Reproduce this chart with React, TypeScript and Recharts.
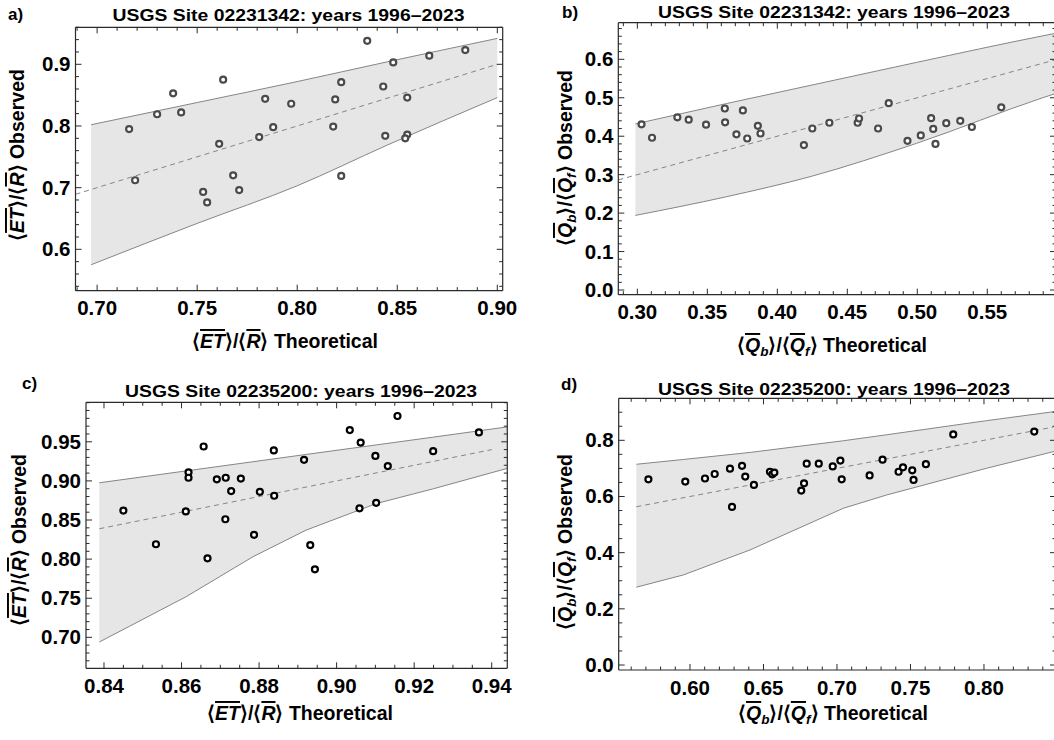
import React from 'react';
import { ComposedChart, XAxis, YAxis, Area, Line, Scatter } from 'recharts';

const FONT = '"Liberation Sans", Arial, Helvetica, sans-serif';

// ---------- Panel a: USGS 02231342, ET/R ----------
const aTheoretical = [0.716, 0.719, 0.730, 0.738, 0.742, 0.753, 0.755, 0.761, 0.763, 0.768, 0.771, 0.781, 0.784, 0.788, 0.797, 0.818, 0.819, 0.822, 0.822, 0.835, 0.843, 0.844, 0.848, 0.855, 0.855, 0.854, 0.866, 0.884];
const aObserved = [0.795, 0.712, 0.819, 0.853, 0.822, 0.693, 0.676, 0.771, 0.875, 0.720, 0.696, 0.782, 0.844, 0.798, 0.836, 0.799, 0.843, 0.871, 0.719, 0.938, 0.864, 0.784, 0.903, 0.846, 0.786, 0.780, 0.914, 0.923];
const aBandX = [0.697, 0.75, 0.80, 0.845, 0.90];
const aBandLow = [0.575, 0.642, 0.703, 0.769, 0.846];
const aBandHigh = [0.802, 0.838, 0.872, 0.904, 0.942];
const aDiag = [0.6892, 0.90];
const aXMajor = [0.70, 0.75, 0.80, 0.85, 0.90];
const aYMajor = [0.6, 0.7, 0.8, 0.9];

// ---------- Panel b: USGS 02231342, Qb/Qf ----------
const bTheoretical = [0.303, 0.3105, 0.3286, 0.3367, 0.3491, 0.3625, 0.3627, 0.3708, 0.3754, 0.3785, 0.3861, 0.388, 0.419, 0.425, 0.4372, 0.4574, 0.4584, 0.472, 0.4796, 0.493, 0.5025, 0.5099, 0.5114, 0.513, 0.5207, 0.5307, 0.539, 0.56];
const bObserved = [0.431, 0.396, 0.449, 0.443, 0.430, 0.472, 0.436, 0.405, 0.467, 0.394, 0.427, 0.407, 0.377, 0.420, 0.435, 0.435, 0.446, 0.420, 0.486, 0.388, 0.402, 0.447, 0.419, 0.380, 0.434, 0.440, 0.424, 0.475];
const bBandX = [0.2986, 0.3638, 0.4234, 0.4995, 0.5896, 0.598];
const bBandLow = [0.194, 0.2427, 0.2947, 0.3815, 0.50, 0.51];
const bBandHigh = [0.432, 0.485, 0.532, 0.592, 0.661, 0.667];
const bDiag = [0.2864, 0.598];
const bXMajor = [0.30, 0.35, 0.40, 0.45, 0.50, 0.55];
const bYMajor = [0.0, 0.1, 0.2, 0.3, 0.4, 0.5, 0.6];

// ---------- Panel c: USGS 02235200, ET/R ----------
const cTheoretical = [0.845, 0.8534, 0.8611, 0.8618, 0.8618, 0.8657, 0.8667, 0.8691, 0.8714, 0.8713, 0.8728, 0.8753, 0.8787, 0.8802, 0.8838, 0.8839, 0.8916, 0.8932, 0.8944, 0.9034, 0.9062, 0.9059, 0.91, 0.9102, 0.9132, 0.9157, 0.9249, 0.9367];
const cObserved = [0.862, 0.819, 0.861, 0.911, 0.904, 0.944, 0.801, 0.902, 0.904, 0.851, 0.887, 0.903, 0.831, 0.886, 0.939, 0.881, 0.927, 0.818, 0.787, 0.965, 0.949, 0.865, 0.932, 0.872, 0.919, 0.983, 0.938, 0.962];
const cBandX = [0.8388, 0.8612, 0.8784, 0.8921, 0.9102, 0.925, 0.944];
const cBandLow = [0.694, 0.752, 0.803, 0.837, 0.871, 0.890, 0.916];
const cBandHigh = [0.8976, 0.9128, 0.9245, 0.9338, 0.946, 0.956, 0.969];
const cDiag = [0.8388, 0.94];
const cXMajor = [0.84, 0.86, 0.88, 0.90, 0.92, 0.94];
const cYMajor = [0.70, 0.75, 0.80, 0.85, 0.90, 0.95];

// ---------- Panel d: USGS 02235200, Qb/Qf ----------
const dTheoretical = [0.5717, 0.5968, 0.6102, 0.6168, 0.6272, 0.6286, 0.6354, 0.6376, 0.6435, 0.6544, 0.656, 0.6574, 0.6757, 0.6776, 0.6794, 0.6876, 0.6971, 0.7023, 0.7032, 0.7222, 0.731, 0.7419, 0.7449, 0.7512, 0.7521, 0.7605, 0.7791, 0.8342];
const dObserved = [0.661, 0.653, 0.664, 0.680, 0.699, 0.563, 0.709, 0.671, 0.641, 0.688, 0.679, 0.685, 0.621, 0.647, 0.717, 0.717, 0.707, 0.728, 0.661, 0.675, 0.731, 0.688, 0.704, 0.693, 0.659, 0.715, 0.821, 0.831];
const dBandX = [0.5635, 0.5954, 0.6408, 0.7043, 0.7338, 0.8018, 0.849];
const dBandLow = [0.277, 0.3205, 0.4095, 0.558, 0.6054, 0.7005, 0.762];
const dBandHigh = [0.7147, 0.7317, 0.7568, 0.7984, 0.8198, 0.870, 0.903];
const dDiag = [0.5635, 0.8471];
const dXMajor = [0.60, 0.65, 0.70, 0.75, 0.80];
const dYMajor = [0.0, 0.2, 0.4, 0.6, 0.8];

type Box = { x: number; y: number; w: number; h: number };
type Rect = { l: number; t: number; r: number; b: number };
type PanelCfg = {
  box: Box; plot: Rect;
  xDomain: [number, number]; yDomain: [number, number];
  xMajor: number[]; yMajor: number[]; xMinor: number; yMinor: number;
  xDec: number; yDec: number;
  theo: number[]; obs: number[];
  bandX: number[]; bandLow: number[]; bandHigh: number[]; diag: number[];
  curve: 'linear' | 'monotone';
  markerColor: string;
};

const panels: PanelCfg[] = [
  {
    box: { x: 0, y: 0, w: 520, h: 370 }, plot: { l: 75.5, t: 27.3, r: 502.7, b: 290.7 },
    xDomain: [0.6892, 0.9027], yDomain: [0.5329, 0.96],
    xMajor: aXMajor, yMajor: aYMajor, xMinor: 0.01, yMinor: 0.02, xDec: 2, yDec: 1,
    theo: aTheoretical, obs: aObserved, bandX: aBandX, bandLow: aBandLow, bandHigh: aBandHigh, diag: aDiag,
    curve: 'monotone', markerColor: '#4a4a4a',
  },
  {
    box: { x: 520, y: 0, w: 550, h: 370 }, plot: { l: 618.3, t: 22.7, r: 1056, b: 294.7 },
    xDomain: [0.2864, 0.5991], yDomain: [-0.0122, 0.6952],
    xMajor: bXMajor, yMajor: bYMajor, xMinor: 0.01, yMinor: 0.02, xDec: 2, yDec: 1,
    theo: bTheoretical, obs: bObserved, bandX: bBandX, bandLow: bBandLow, bandHigh: bBandHigh, diag: bDiag,
    curve: 'monotone', markerColor: '#4a4a4a',
  },
  {
    box: { x: 0, y: 370, w: 520, h: 370 }, plot: { l: 86, t: 402.3, r: 507.3, b: 668.3 },
    xDomain: [0.83536, 0.94402], yDomain: [0.6604, 1.0005],
    xMajor: cXMajor, yMajor: cYMajor, xMinor: 0.005, yMinor: 0.01, xDec: 2, yDec: 2,
    theo: cTheoretical, obs: cObserved, bandX: cBandX, bandLow: cBandLow, bandHigh: cBandHigh, diag: cDiag,
    curve: 'linear', markerColor: '#000000',
  },
  {
    box: { x: 520, y: 370, w: 550, h: 370 }, plot: { l: 618.7, t: 398.3, r: 1056, b: 670 },
    xDomain: [0.5515, 0.849], yDomain: [-0.0178, 0.9496],
    xMajor: dXMajor, yMajor: dYMajor, xMinor: 0.01, yMinor: 0.05, xDec: 2, yDec: 1,
    theo: dTheoretical, obs: dObserved, bandX: dBandX, bandLow: dBandLow, bandHigh: dBandHigh, diag: dDiag,
    curve: 'linear', markerColor: '#000000',
  },
];

function tickList(domain: [number, number], step: number): number[] {
  const out: number[] = [];
  const start = Math.ceil(domain[0] / step - 1e-9);
  const end = Math.floor(domain[1] / step + 1e-9);
  for (let i = start; i <= end; i++) out.push(Math.round(i * step * 1e6) / 1e6);
  return out;
}
const isMajor = (v: number, majors: number[]) => majors.some((m) => Math.abs(m - v) < 1e-7);

const FRAME = '#2a2a2a';
const MAJ = 6;
const MIN = 3.5;
const TICK_FS = 20.5;

function PanelChart({ p }: { p: PanelCfg }) {
  const W = p.box.w, H = p.box.h;
  const L = p.plot.l - p.box.x, T = p.plot.t - p.box.y, R = p.plot.r - p.box.x, B = p.plot.b - p.box.y;
  const YW = 50, XH = 40, TH = 5, RW = 5;
  const margin = { left: L - YW, top: T - TH, right: W - R - RW, bottom: H - B - XH };
  const bandData = p.bandX.map((x, i) => ({ x, band: [p.bandLow[i], p.bandHigh[i]] }));
  const diagData = p.diag.map((x) => ({ x, d: x }));
  const pts = p.theo.map((x, i) => ({ x, y: p.obs[i] }));
  const xTicks = tickList(p.xDomain, p.xMinor);
  const yTicks = tickList(p.yDomain, p.yMinor);

  const bottomTick = (props: any) => {
    const v = props.payload.value as number;
    const x = props.x as number;
    const maj = isMajor(v, p.xMajor);
    return (
      <g>
        <line x1={x} x2={x} y1={B} y2={B - (maj ? MAJ : MIN)} stroke={FRAME} strokeWidth={1} />
        {maj && (
          <text x={x} y={B + 24.5} textAnchor="middle" fontFamily={FONT} fontWeight="bold" fontSize={TICK_FS} fill="#000">
            {v.toFixed(p.xDec)}
          </text>
        )}
      </g>
    );
  };
  const topTick = (props: any) => {
    const v = props.payload.value as number;
    const x = props.x as number;
    const maj = isMajor(v, p.xMajor);
    return <line x1={x} x2={x} y1={T} y2={T + (maj ? MAJ : MIN)} stroke={FRAME} strokeWidth={1} />;
  };
  const leftTick = (props: any) => {
    const v = props.payload.value as number;
    const y = props.y as number;
    const maj = isMajor(v, p.yMajor);
    return (
      <g>
        <line x1={L} x2={L + (maj ? MAJ : MIN)} y1={y} y2={y} stroke={FRAME} strokeWidth={1} />
        {maj && (
          <text x={L - 5} y={y + 7} textAnchor="end" fontFamily={FONT} fontWeight="bold" fontSize={TICK_FS} fill="#000">
            {v.toFixed(p.yDec)}
          </text>
        )}
      </g>
    );
  };
  const rightTick = (props: any) => {
    const v = props.payload.value as number;
    const y = props.y as number;
    const maj = isMajor(v, p.yMajor);
    return <line x1={R} x2={R - (maj ? MAJ : MIN)} y1={y} y2={y} stroke={FRAME} strokeWidth={1} />;
  };

  return (
    <div style={{ position: 'absolute', left: p.box.x, top: p.box.y, width: W, height: H }}>
      <ComposedChart width={W} height={H} margin={margin}>
        <XAxis type="number" dataKey="x" domain={p.xDomain} allowDataOverflow ticks={xTicks} interval={0}
          tickLine={false} axisLine={{ stroke: FRAME, strokeWidth: 1.2 }} tick={bottomTick} height={XH} />
        <XAxis xAxisId="top" orientation="top" type="number" dataKey="x" domain={p.xDomain} allowDataOverflow ticks={xTicks}
          interval={0} tickLine={false} axisLine={{ stroke: FRAME, strokeWidth: 1.2 }} tick={topTick} height={TH} />
        <YAxis type="number" domain={p.yDomain} allowDataOverflow ticks={yTicks} interval={0}
          tickLine={false} axisLine={{ stroke: FRAME, strokeWidth: 1.2 }} tick={leftTick} width={YW} />
        <YAxis yAxisId="right" orientation="right" type="number" domain={p.yDomain} allowDataOverflow ticks={yTicks}
          interval={0} tickLine={false} axisLine={{ stroke: FRAME, strokeWidth: 1.2 }} tick={rightTick} width={RW} />
        <Area data={bandData} dataKey="band" type={p.curve} fill="#e6e6e6" fillOpacity={1} stroke="#858585"
          strokeWidth={1} isAnimationActive={false} dot={false} activeDot={false} />
        <Line data={diagData} dataKey="d" type="linear" stroke="#858585" strokeWidth={1} strokeDasharray="5 4"
          dot={false} activeDot={false} isAnimationActive={false} />
        <Scatter data={pts} dataKey="y" isAnimationActive={false}
          shape={(s: any) => <circle cx={s.cx} cy={s.cy} r={3} fill="#ffffff" fillOpacity={0.9} stroke={p.markerColor} strokeWidth={2.2} />} />
      </ComposedChart>
    </div>
  );
}

const panelLetters = ['a)', 'b)', 'c)', 'd)'];
const titles = [
  'USGS Site 02231342: years 1996–2023',
  'USGS Site 02231342: years 1996–2023',
  'USGS Site 02235200: years 1996–2023',
  'USGS Site 02235200: years 1996–2023',
];
const kinds: ('ET' | 'Q')[] = ['ET', 'Q', 'ET', 'Q'];
const letterPos = [[8, 20], [562, 17.5], [22, 389], [561, 390]];
const titlePos = [[288.5, 20.5], [834, 17.5], [301, 396.5], [834, 395]];
const xLabelPos = [[285, 348], [832, 352], [300, 720], [833, 720]];
const yLabelPos = [[24, 155], [572, 158], [26, 540], [572, 542]];

const ov: React.CSSProperties = { textDecoration: 'overline' };

function Ratio({ kind }: { kind: 'ET' | 'Q' }) {
  if (kind === 'ET') {
    return (
      <>
        <tspan>⟨</tspan>
        <tspan fontStyle="italic" style={ov}>ET</tspan>
        <tspan>⟩/⟨</tspan>
        <tspan fontStyle="italic" style={ov}>R</tspan>
        <tspan>⟩</tspan>
      </>
    );
  }
  return (
    <>
      <tspan>⟨</tspan>
      <tspan fontStyle="italic" style={ov}>Q</tspan>
      <tspan fontStyle="italic" fontSize={13.5} dy={4}>b</tspan>
      <tspan dy={-4}>⟩/⟨</tspan>
      <tspan fontStyle="italic" style={ov}>Q</tspan>
      <tspan fontStyle="italic" fontSize={13.5} dy={4}>f</tspan>
      <tspan dy={-4}>⟩</tspan>
    </>
  );
}

function Overlay() {
  return (
    <svg width={1054} height={740} style={{ position: 'absolute', left: 0, top: 0, pointerEvents: 'none' }}>
      {panels.map((p, i) => (
        <g key={i} fontFamily={FONT} fontWeight="bold" fill="#000">
          <text x={letterPos[i][0]} y={letterPos[i][1]} fontSize={17}>{panelLetters[i]}</text>
          <text x={titlePos[i][0]} y={titlePos[i][1]} fontSize={17} textAnchor="middle" textLength={352} lengthAdjust="spacingAndGlyphs">
            {titles[i]}
          </text>
          <text x={xLabelPos[i][0]} y={xLabelPos[i][1]} fontSize={19.5} textAnchor="middle">
            <Ratio kind={kinds[i]} />
            <tspan> Theoretical</tspan>
          </text>
          <text transform={`translate(${yLabelPos[i][0]},${yLabelPos[i][1]}) rotate(-90)`} x={0} y={0} fontSize={19.5} textAnchor="middle">
            <Ratio kind={kinds[i]} />
            <tspan> Observed</tspan>
          </text>
        </g>
      ))}
    </svg>
  );
}

export default function App() {
  return (
    <div style={{ position: 'absolute', left: 0, top: 0, width: 1054, height: 740, overflow: 'hidden', background: '#fff' }}>
      {panels.map((p, i) => (
        <PanelChart key={i} p={p} />
      ))}
      <Overlay />
    </div>
  );
}
